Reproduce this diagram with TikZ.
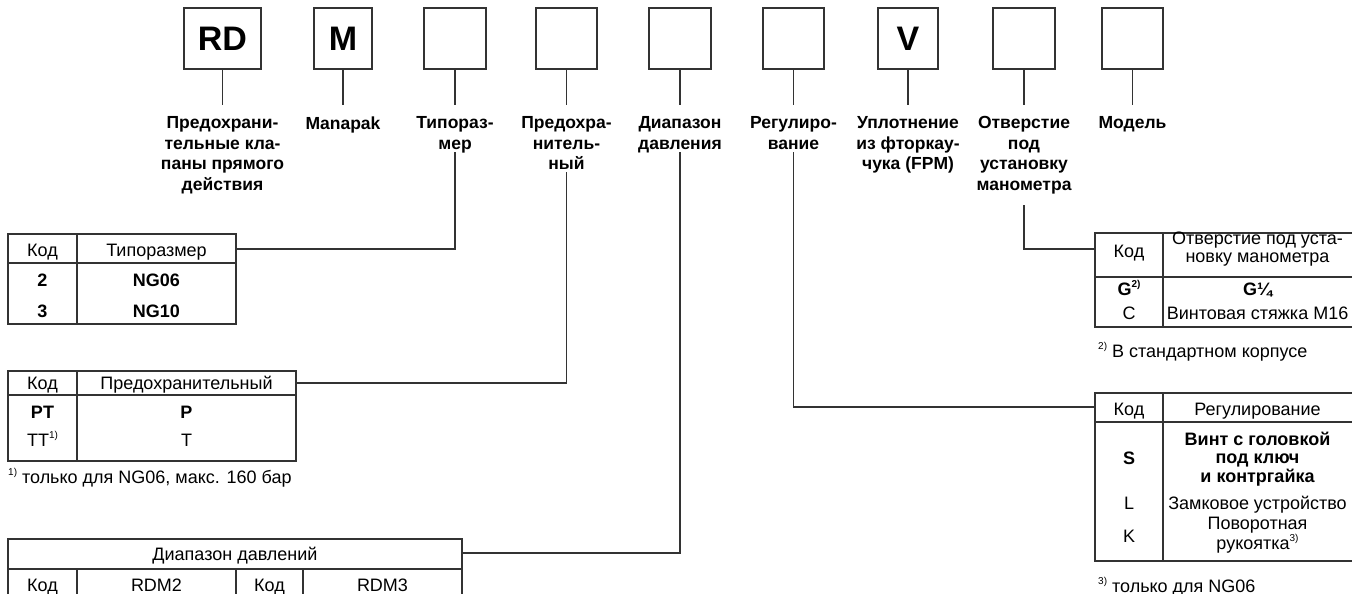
\documentclass[tikz,border=0pt]{standalone}
\usepackage{fontspec}
\setmainfont{Liberation Sans}
\newcommand\myfs{\fontsize{17.5}{20.5}\selectfont}
\newcommand\tfs{\fontsize{18}{20}\selectfont}
\newcommand\sups[1]{\raisebox{0.42em}{\fontsize{10}{10}\selectfont #1}}
\begin{document}
\begin{tikzpicture}[x=1pt,y=-1pt,
  ln/.style={line width=1.1pt, draw=black!80},
  codebox/.style={ln, minimum height=61pt, inner sep=0pt, font=\bfseries\fontsize{34}{34}\selectfont},
  lbl/.style={anchor=north, align=center, inner sep=0pt, font=\bfseries\myfs},
  tx/.style={anchor=base, inner sep=0pt, font=\tfs},
  tb/.style={anchor=base, inner sep=0pt, font=\bfseries\tfs},
  tml/.style={anchor=north, align=center, inner sep=0pt, font=\fontsize{18}{18.5}\selectfont},
]
\useasboundingbox (0,0) rectangle (1352,594);
\clip (0,0) rectangle (1352,594);
\fill[white] (0,0) rectangle (1352,594);

% top code boxes
\node[codebox, minimum width=77pt] (b1) at (222.5,38.5) {RD};
\node[codebox, minimum width=58pt] (b2) at (343,38.5) {M};
\node[codebox, minimum width=62pt] (b3) at (455,38.5) {};
\node[codebox, minimum width=61pt] (b4) at (566.5,38.5) {};
\node[codebox, minimum width=62pt] (b5) at (680,38.5) {};
\node[codebox, minimum width=61pt] (b6) at (793.5,38.5) {};
\node[codebox, minimum width=60pt] (b7) at (908,38.5) {V};
\node[codebox, minimum width=62pt] (b8) at (1024,38.5) {};
\node[codebox, minimum width=61pt] (b9) at (1132.5,38.5) {};

% labels
\node[lbl] (l1) at (222.5,116.5) {Предохрани-\\тельные кла-\\паны прямого\\действия};
\node[lbl] (l2) at (343,116.5) {Manapak};
\node[lbl] (l3) at (455,116.5) {Типораз-\\мер};
\node[lbl] (l4) at (566.5,116.5) {Предохра-\\нитель-\\ный};
\node[lbl] (l5) at (680,116.5) {Диапазон\\давления};
\node[lbl] (l6) at (793.5,116.5) {Регулиро-\\вание};
\node[lbl] (l7) at (908,116.5) {Уплотнение\\из фторкау-\\чука (FPM)};
\node[lbl] (l8) at (1024,116.5) {Отверстие\\под\\установку\\манометра};
\node[lbl] (l9) at (1132.5,116.5) {Модель};

\foreach \i in {1,...,9} \draw[ln] (b\i.south) -- (b\i.south |- 0,105);

% table 1: Типоразмер
\draw[ln] (8,234) rectangle (236,324);
\draw[ln] (77,234) -- (77,324);
\draw[ln] (8,263) -- (236,263);
\coordinate (t1c) at (236,249);
\node[tx] (t1a) at (42.5,256) {Код};
\node[tx] (t1b) at (156.5,256) {Типоразмер};
\node[tb] (t1c1) at (42.5,286.5) {2};
\node[tb] (t1c2) at (156.5,286.5) {NG06};
\node[tb] (t1d1) at (42.5,317) {3};
\node[tb] (t1d2) at (156.5,317) {NG10};

% table 2: Предохранительный
\draw[ln] (8,371) rectangle (296,461);
\draw[ln] (77,371) -- (77,461);
\draw[ln] (8,395) -- (296,395);
\coordinate (t2c) at (296,383);
\node[tx] (t2a) at (42.5,389.5) {Код};
\node[tx] (t2b) at (186.5,389.5) {Предохранительный};
\node[tb] (t2c1) at (42.5,418) {PT};
\node[tb] (t2c2) at (186.5,418) {P};
\node[tx] (t2d1) at (42.5,446) {TT\sups{1)}};
\node[tx] (t2d2) at (186.5,446) {T};
\node[tx, anchor=base west] (fn1) at (8,483) {\sups{1)} только для NG06, макс. 160 бар};

% table 3: Диапазон давлений
\draw[ln] (8,600) -- (8,539) -- (462,539) -- (462,600);
\draw[ln] (8,569) -- (462,569);
\draw[ln] (77,569) -- (77,600);
\draw[ln] (236,569) -- (236,600);
\draw[ln] (303,569) -- (303,600);
\coordinate (t3c) at (462,553);
\node[tx] (t3h) at (235,560.5) {Диапазон давлений};
\node[tx] (t3a) at (42.5,591.5) {Код};
\node[tx] (t3b) at (156.5,591.5) {RDM2};
\node[tx] (t3d) at (269.5,591.5) {Код};
\node[tx] (t3e) at (382.5,591.5) {RDM3};

% table 4: Отверстие под установку манометра
\draw[ln] (1360,233) -- (1095,233) -- (1095,327) -- (1360,327);
\draw[ln] (1163,233) -- (1163,327);
\draw[ln] (1095,277) -- (1360,277);
\coordinate (t4c) at (1095,249);
\node[tx] (t4a) at (1129,257.5) {Код};
\node[tml] (t4b) at (1257.5,231.5) {Отверстие под уста-\\новку манометра};
\node[tb] (t4c1) at (1129,295.5) {G\sups{2)}};
\node[tb] (t4c2) at (1257.5,295.5) {G¼};
\node[tx] (t4d1) at (1129,319.5) {C};
\node[tx] (t4d2) at (1257.5,319.5) {Винтовая стяжка M16};
\node[tx, anchor=base west] (fn2) at (1098,357) {\sups{2)} В стандартном корпусе};

% table 5: Регулирование
\draw[ln] (1360,393) -- (1095,393) -- (1095,561) -- (1360,561);
\draw[ln] (1163,393) -- (1163,561);
\draw[ln] (1095,422) -- (1360,422);
\coordinate (t5c) at (1095,407);
\node[tx] (t5a) at (1129,415.5) {Код};
\node[tx] (t5b) at (1257.5,415.5) {Регулирование};
\node[tb] (t5c1) at (1129,464.5) {S};
\node[tml, font=\bfseries\fontsize{18}{18.5}\selectfont] (t5c2) at (1257.5,431.5) {Винт с головкой\\под ключ\\и контргайка};
\node[tx] (t5d1) at (1129,509.5) {L};
\node[tx] (t5d2) at (1257.5,509.5) {Замковое устройство};
\node[tx] (t5e1) at (1129,542.5) {K};
\node[tml] (t5e2) at (1257.5,517) {Поворотная\\рукоятка\sups{3)}};
\node[tx, anchor=base west] (fn3) at (1098,592.5) {\sups{3)} только для NG06};

% connectors
\draw[ln] (l3.south |- 0,152) |- (t1c);
\draw[ln] (l4.south |- 0,172) |- (t2c);
\draw[ln] (l5.south |- 0,152) |- (t3c);
\draw[ln] (l6.south |- 0,152) |- (t5c);
\draw[ln] (l8.south |- 0,205) |- (t4c);
\end{tikzpicture}
\end{document}
